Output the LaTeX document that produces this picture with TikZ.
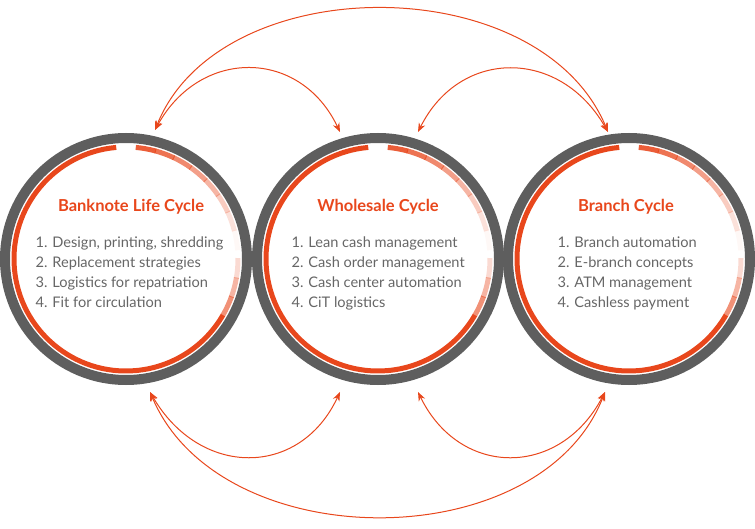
\documentclass[tikz,border=0pt]{standalone}
\usepackage{fontspec}
\setmainfont{Lato}
\usetikzlibrary{arrows.meta}
\definecolor{ring}{HTML}{5E5E5E}
\definecolor{accent}{HTML}{E8471C}
\definecolor{txt}{HTML}{666666}
\tikzset{
  cycle/.style = {draw=ring, line width=10pt, circle, minimum size=242pt, inner sep=0pt},
  title/.style = {text=accent, font=\bfseries\fontsize{16.5}{18}\selectfont},
  items/.style = {text=txt, align=left, anchor=north west, font=\fontsize{14.6}{20}\selectfont},
  link/.style = {draw=accent, line width=1pt, {Stealth[length=9pt,width=7pt]}-{Stealth[length=9pt,width=7pt]}}
}
\newcommand{\ringaccent}[1]{%
  \draw[accent, line width=5pt] (#1) ++(95:112pt) arc[start angle=95, end angle=330, radius=112pt];
  \foreach \a [count=\i] in {85,75,...,15}
    \draw[accent, line width=5pt, opacity={1-\i*0.12}] (#1) ++(\a:112pt) arc[start angle=\a, end angle={\a-10.5}, radius=112pt];
  \foreach \a [count=\i] in {330,340,350}
    \draw[accent, line width=5pt, opacity={0.8-\i*0.2}] (#1) ++(\a:112pt) arc[start angle=\a, end angle={\a+10.5}, radius=112pt];
}
\begin{document}
\begin{tikzpicture}[x=1pt, y=1pt]
  \useasboundingbox (0,0) rectangle (755,528);

  \node[cycle] (bank) at (126,269) {};
  \node[cycle] (whole) at (378,269) {};
  \node[cycle] (branch) at (629,269) {};
  \ringaccent{bank}
  \ringaccent{whole}
  \ringaccent{branch}

  \node[title] (bankt) at (131,321) {Banknote Life Cycle};
  \node[title] (wholet) at (378,321) {Wholesale Cycle};
  \node[title] (brancht) at (626,321) {Branch Cycle};
  \node[items] (banki) at (32,295) {1. Design, printing, shredding\\2. Replacement strategies\\3. Logistics for repatriation\\4. Fit for circulation};
  \node[items] (wholei) at (288,295) {1. Lean cash management\\2. Cash order management\\3. Cash center automation\\4. CiT logistics};
  \node[items] (branchi) at (554,295) {1. Branch automation\\2. E-branch concepts\\3. ATM management\\4. Cashless payment};

  % top connectors
  \coordinate (t1) at (155,398);
  \coordinate (t2) at (340,396);
  \coordinate (t3) at (418,396);
  \coordinate (t4) at (608,396);
  \draw[link] (t1) .. controls (200,480) and (300,480) .. (t2);
  \draw[link] (t3) .. controls (460,480) and (560,480) .. (t4);
  \draw[link] (t1) .. controls (220,560) and (540,560) .. (t4);

  % bottom connectors
  \coordinate (b1) at (150,136);
  \coordinate (b2) at (340,136);
  \coordinate (b3) at (418,136);
  \coordinate (b4) at (605,136);
  \draw[link] (b1) .. controls (200,50) and (300,50) .. (b2);
  \draw[link] (b3) .. controls (460,50) and (560,50) .. (b4);
  \draw[link] (b1) .. controls (220,-30) and (540,-30) .. (b4);
\end{tikzpicture}
\end{document}
